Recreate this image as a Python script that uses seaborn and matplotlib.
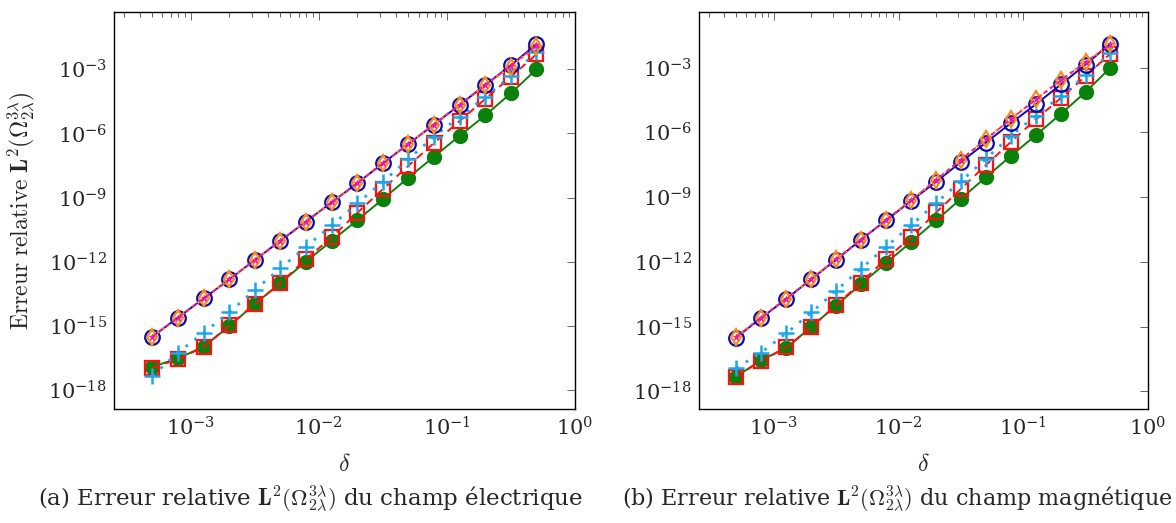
import numpy as np
import pandas as pd
import matplotlib
matplotlib.use("Agg")
import matplotlib.pyplot as plt
import matplotlib.ticker as mticker
import seaborn as sns

# ---- data ----
delta = [5.0e-4, 7.9e-4, 1.26e-3, 2.0e-3, 3.16e-3, 5.0e-3, 7.9e-3, 1.26e-2,
         2.0e-2, 3.16e-2, 5.0e-2, 7.9e-2, 0.126, 0.2, 0.316, 0.5]

# (a) electric field
a_blue = [3.1e-16, 2.4e-15, 1.9e-14, 1.5e-13, 1.2e-12, 9.5e-12, 7.4e-11, 6.0e-10,
          4.8e-9, 4.0e-8, 3.2e-7, 2.6e-6, 2.2e-5, 1.9e-4, 1.55e-3, 1.5e-2]
a_orange = [3.1e-16, 2.4e-15, 1.9e-14, 1.5e-13, 1.2e-12, 9.5e-12, 7.4e-11, 6.0e-10,
            4.8e-9, 4.0e-8, 3.2e-7, 2.6e-6, 2.2e-5, 1.9e-4, 1.35e-3, 1.2e-2]
a_magenta = [3.1e-16, 2.4e-15, 1.9e-14, 1.5e-13, 1.2e-12, 9.5e-12, 7.4e-11, 6.0e-10,
             4.8e-9, 4.0e-8, 3.2e-7, 2.6e-6, 2.2e-5, 1.9e-4, 1.45e-3, 1.35e-2]
a_green = [1.2e-17, 3.0e-17, 1.05e-16, 9.8e-16, 1.05e-14, 1.0e-13, 1.0e-12, 9.5e-12,
           8.9e-11, 8.5e-10, 8.5e-9, 8.1e-8, 7.8e-7, 7.2e-6, 7.6e-5, 1.0e-3]
a_red = [1.1e-17, 2.7e-17, 1.05e-16, 1.05e-15, 1.05e-14, 1.0e-13, 1.3e-12, 1.4e-11,
         1.95e-10, 2.5e-9, 3.1e-8, 3.5e-7, 3.9e-6, 4.2e-5, 4.5e-4, 5.0e-3]
a_cyan = [4.5e-18, 5.5e-17, 4.7e-16, 4.4e-15, 4.7e-14, 4.9e-13, 5.0e-12, 5.1e-11,
          5.4e-10, 5.5e-9, 6.2e-8, 7.1e-7, 6.0e-6, 5.2e-5, 4.9e-4, 6.6e-3]

# (b) magnetic field
b_blue = [3.1e-16, 2.5e-15, 1.9e-14, 1.6e-13, 1.26e-12, 1.05e-11, 8.3e-11, 6.6e-10,
          5.2e-9, 4.2e-8, 3.3e-7, 2.6e-6, 2.0e-5, 1.66e-4, 1.4e-3, 1.3e-2]
b_orange = [3.4e-16, 2.6e-15, 2.0e-14, 1.6e-13, 1.35e-12, 1.07e-11, 8.3e-11, 7.1e-10,
            6.3e-9, 5.4e-8, 4.7e-7, 4.0e-6, 3.4e-5, 2.6e-4, 1.8e-3, 1.2e-2]
b_magenta = [3.4e-16, 2.6e-15, 2.0e-14, 1.6e-13, 1.35e-12, 1.07e-11, 8.3e-11, 7.1e-10,
             6.3e-9, 5.4e-8, 4.7e-7, 4.0e-6, 3.4e-5, 2.6e-4, 1.8e-3, 1.2e-2]
b_green = [4.8e-18, 2.8e-17, 1.0e-16, 1.0e-15, 9.3e-15, 9.3e-14, 8.7e-13, 8.3e-12,
           8.3e-11, 8.3e-10, 8.3e-9, 7.8e-8, 7.4e-7, 7.2e-6, 7.4e-5, 1.0e-3]
b_red = [4.8e-18, 2.6e-17, 1.1e-16, 9.3e-16, 1.0e-14, 1.1e-13, 1.35e-12, 1.4e-11,
         1.95e-10, 2.4e-9, 3.0e-8, 3.5e-7, 4.0e-6, 3.9e-5, 4.1e-4, 4.5e-3]
b_cyan = [1.2e-17, 6.2e-17, 4.9e-16, 4.5e-15, 4.7e-14, 4.8e-13, 4.9e-12, 4.9e-11,
          5.4e-10, 5.4e-9, 5.9e-8, 6.6e-7, 6.0e-6, 4.8e-5, 4.4e-4, 5.0e-3]

x_ticks = [1e-3, 1e-2, 1e-1, 1e0]
y_ticks = [1e-18, 1e-15, 1e-12, 1e-9, 1e-6, 1e-3]

xlabel = r"$\delta$"
ylabel = r"$\mathrm{Erreur\ relative}\ \mathbf{L}^2(\Omega_{2\lambda}^{3\lambda})$"
cap_a = r"(a) Erreur relative $\mathbf{L}^2(\Omega_{2\lambda}^{3\lambda})$ du champ électrique"
cap_b = r"(b) Erreur relative $\mathbf{L}^2(\Omega_{2\lambda}^{3\lambda})$ du champ magnétique"

# ---- style ----
sns.set_style("white")
plt.rcParams["font.family"] = ["DejaVu Serif"]
plt.rcParams["mathtext.fontset"] = "cm"

fig = plt.figure(figsize=(11.76, 5.23), dpi=100)
ax_a = fig.add_axes([114 / 1176, 1 - 409 / 523, 461 / 1176, 397 / 523])
ax_b = fig.add_axes([699 / 1176, 1 - 409 / 523, 449 / 1176, 397 / 523])

NAVY = "#0A0AB4"
ORANGE = "#FF8A14"
MAGENTA = "#F0189C"
GREEN = "#0B800B"
RED = "#FF1010"
CYAN = "#1AA8EC"


def draw(ax, blue, orange, magenta, green, red, cyan):
    lw = 1.4
    sns.lineplot(x=delta, y=green, ax=ax, color=GREEN, linestyle="-", lw=lw,
                 marker="o", markersize=10, markerfacecolor=GREEN,
                 markeredgecolor=GREEN, markeredgewidth=1.0, zorder=2)
    sns.lineplot(x=delta, y=red, ax=ax, color=RED, linestyle=(0, (4, 3)), lw=lw,
                 marker="s", markersize=10, markerfacecolor="none",
                 markeredgecolor=RED, markeredgewidth=1.6, zorder=3)
    sns.lineplot(x=delta, y=cyan, ax=ax, color=CYAN, linestyle=(0, (1, 3)), lw=2.0,
                 marker="+", markersize=11, markeredgecolor=CYAN,
                 markeredgewidth=1.8, zorder=4)
    sns.lineplot(x=delta, y=blue, ax=ax, color=NAVY, linestyle="-", lw=lw,
                 marker="o", markersize=10.5, markerfacecolor="none",
                 markeredgecolor=NAVY, markeredgewidth=1.6, zorder=5)
    sns.lineplot(x=delta, y=orange, ax=ax, color=ORANGE, linestyle=(0, (1, 1.5)), lw=1.8,
                 marker="d", markersize=8.5, markerfacecolor="none",
                 markeredgecolor=ORANGE, markeredgewidth=1.6, zorder=6)
    sns.lineplot(x=delta, y=magenta, ax=ax, color=MAGENTA, linestyle=(0, (3, 2)), lw=1.2,
                 marker="*", markersize=5, markerfacecolor=MAGENTA,
                 markeredgecolor=MAGENTA, markeredgewidth=0.6, zorder=7)


draw(ax_a, a_blue, a_orange, a_magenta, a_green, a_red, a_cyan)
draw(ax_b, b_blue, b_orange, b_magenta, b_green, b_red, b_cyan)

for ax, ylim in ((ax_a, (10 ** -18.89, 10 ** -0.32)), (ax_b, (10 ** -18.82, 10 ** -0.42))):
    ax.set_xscale("log")
    ax.set_yscale("log")
    ax.set_xlim(10 ** -3.6, 1.0)
    ax.set_ylim(*ylim)
    ax.set_xticks(x_ticks)
    ax.xaxis.set_minor_locator(mticker.LogLocator(base=10, subs=np.arange(2, 10)))
    ax.xaxis.set_minor_formatter(mticker.NullFormatter())
    ax.xaxis.set_major_formatter(mticker.LogFormatterSciNotation())
    ax.set_yticks(y_ticks)
    ax.yaxis.set_minor_locator(mticker.NullLocator())
    ax.yaxis.set_major_formatter(mticker.LogFormatterSciNotation())
    ax.tick_params(which="both", direction="in", top=True, right=True,
                   color="#666666", width=0.7, labelsize=15, pad=5)
    ax.tick_params(which="major", length=6)
    ax.tick_params(which="minor", length=3.5)
    for s in ax.spines.values():
        s.set_color("black")
        s.set_linewidth(1.0)
    ax.set_xlabel(xlabel, fontsize=17, labelpad=10)
    ax.set_ylabel("")
    ax.grid(False)

ax_a.set_ylabel(ylabel, fontsize=17, labelpad=8)

fig.text(38 / 1176, 1 - 499 / 523, cap_a, fontsize=16.5, ha="left", va="center")
fig.text(622 / 1176, 1 - 499 / 523, cap_b, fontsize=16, ha="left", va="center")

fig.savefig("out.png", dpi=100)
